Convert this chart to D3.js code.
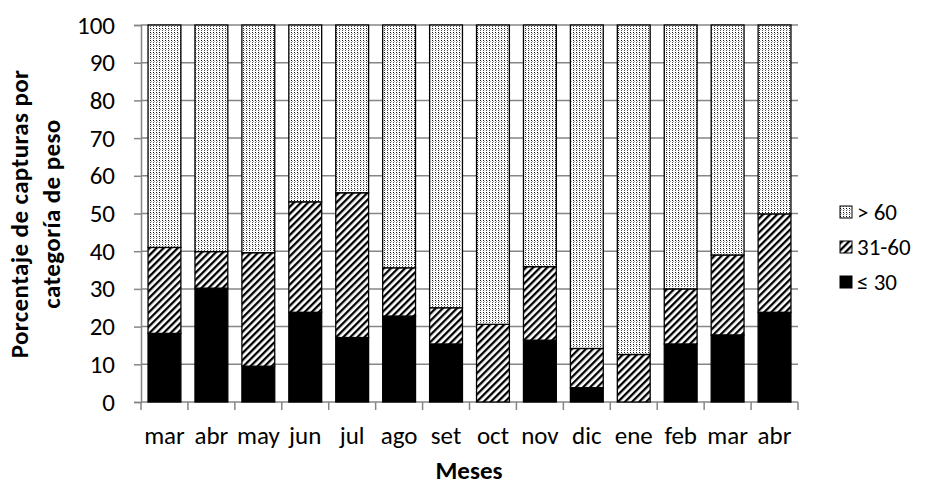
<!DOCTYPE html>
<html><head><meta charset="utf-8">
<script src="https://cdn.jsdelivr.net/npm/d3@7"></script>
<style>body{margin:0;background:#fff}text{font-family:Carlito,Calibri,Lato,"Open Sans",sans-serif}</style>
</head><body><svg id="c" width="925" height="487"></svg>
<script>
const months = ["mar","abr","may","jun","jul","ago","set","oct","nov","dic","ene","feb","mar","abr"];
const le30   = [18.2,30.2,9.5,23.8,17.1,22.8,15.4,0,16.4,3.8,0,15.4,17.8,23.8];
const s31_60 = [22.8,9.7,30.1,29.3,38.4,12.8,9.6,20.6,19.5,10.4,12.6,14.6,21.2,26.1];
const gt60   = [59.0,60.1,60.4,46.9,44.5,64.4,75.0,79.4,64.1,85.8,87.4,70.0,61.0,50.1];
const seriesNames = ["≤ 30","31-60","> 60"];
const yTicks = [0,10,20,30,40,50,60,70,80,90,100];

const svg = d3.select("#c");
const defs = svg.append("defs");
// dotted pattern
const pd = defs.append("pattern").attr("id","dots").attr("patternUnits","userSpaceOnUse").attr("width",3).attr("height",4);
pd.append("rect").attr("width",3).attr("height",4).attr("fill","#fff");
pd.append("rect").attr("x",0).attr("y",0).attr("width",1).attr("height",1).attr("fill","#111");
pd.append("rect").attr("x",0).attr("y",2).attr("width",1).attr("height",1).attr("fill","#555");
pd.append("rect").attr("x",1).attr("y",1).attr("width",1).attr("height",1).attr("fill","#aaa");
// hatch pattern
const ph = defs.append("pattern").attr("id","hatch").attr("patternUnits","userSpaceOnUse").attr("width",5).attr("height",5).attr("patternTransform","rotate(45)");
ph.append("rect").attr("width",5).attr("height",5).attr("fill","#fff");
ph.append("rect").attr("x",0).attr("y",0).attr("width",2.3).attr("height",5).attr("fill","#000");
const fills = ["#000","url(#hatch)","url(#dots)"];

const x0 = 141, x1 = 798, yTop = 25, yBot = 402;
const x = d3.scaleBand().domain(d3.range(months.length)).range([x0,x1]).paddingInner(0.3).paddingOuter(0.15);
const y = d3.scaleLinear().domain([0,100]).range([yBot,yTop]);
const grey = "#868686";

// gridlines
svg.append("g").selectAll("line").data(yTicks.slice(1)).join("line")
  .attr("x1",x0).attr("x2",x1).attr("y1",d=>y(d)).attr("y2",d=>y(d))
  .attr("stroke",grey).attr("stroke-width",1.5);

// y axis
const ya = svg.append("g").attr("transform",`translate(${x0},0)`)
  .call(d3.axisLeft(y).tickValues(yTicks).tickSize(7).tickPadding(19));
ya.select(".domain").attr("stroke",grey).attr("stroke-width",1.5);
ya.selectAll(".tick line").attr("stroke",grey).attr("stroke-width",1.5);
ya.selectAll("text").attr("font-size",25).attr("fill","#000").style("font-family","Carlito,Calibri,Lato,sans-serif");

// x axis (ticks at category boundaries)
const xa = svg.append("g").attr("transform",`translate(0,${yBot})`);
xa.append("line").attr("x1",x0).attr("x2",x1).attr("stroke",grey).attr("stroke-width",1.5);
const bounds = d3.range(months.length+1).map(i => x0 + i*x.step() );
xa.selectAll(".bt").data(bounds).join("line").attr("x1",d=>d).attr("x2",d=>d).attr("y1",0).attr("y2",8)
  .attr("stroke",grey).attr("stroke-width",1.5);
xa.selectAll(".ml").data(months).join("text")
  .attr("x",(d,i)=>x(i)+x.bandwidth()/2).attr("y",42).attr("text-anchor","middle")
  .attr("font-size",25).text(d=>d);

// stacked bars
const data = months.map((m,i)=>({i, a:le30[i], b:s31_60[i], c:gt60[i]}));
const stack = d3.stack().keys(["a","b","c"])(data);
svg.append("g").selectAll("g").data(stack).join("g").attr("fill",(d,k)=>fills[k])
  .selectAll("rect").data(d=>d.filter(p=>p[1]-p[0]>0)).join("rect")
  .attr("x",d=>x(d.data.i)).attr("width",x.bandwidth())
  .attr("y",d=>y(d[1])).attr("height",d=>y(d[0])-y(d[1]))
  .attr("stroke","#000").attr("stroke-width",1.3);

// legend
const lg = svg.append("g");
const order = [2,1,0];
order.forEach((k,j)=>{
  const ly = 212 + j*35;
  lg.append("rect").attr("x",840).attr("y",ly-6).attr("width",12).attr("height",12)
    .attr("fill",fills[k]).attr("stroke","#000").attr("stroke-width",1);
  lg.append("text").attr("x",857).attr("y",ly+8).attr("font-size",23).text(seriesNames[k]);
});

// axis titles
svg.append("text").attr("x",469).attr("y",479).attr("text-anchor","middle")
  .attr("font-size",25).attr("font-weight","bold").text("Meses");
const yt = svg.append("text").attr("transform","translate(0,214) rotate(-90)")
  .attr("text-anchor","middle").attr("font-size",25).attr("font-weight","bold").attr("letter-spacing",0.4);
yt.append("tspan").attr("x",0).attr("y",28).text("Porcentaje de capturas por");
yt.append("tspan").attr("x",0).attr("y",60).text("categoría de peso");
</script></body></html>
